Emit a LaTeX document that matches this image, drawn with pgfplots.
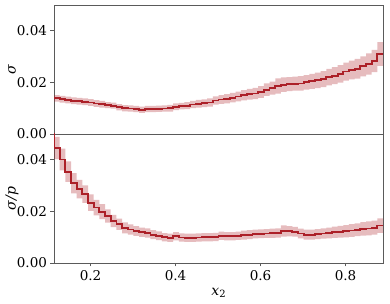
\documentclass[border=0pt]{standalone}
\usepackage{fontspec}
\setmainfont{DejaVu Serif}
\usepackage{pgfplots}
\pgfplotsset{compat=1.18}
\usepgfplotslibrary{fillbetween}
\usepackage{pgfplotstable}
\definecolor{linec}{RGB}{172,32,40}
\definecolor{axc}{RGB}{90,90,90}

\pgfplotstableread{
x y e
0.1140 0.0138 0.0013
0.1273 0.0135 0.0013
0.1407 0.0132 0.0013
0.1540 0.0129 0.0013
0.1674 0.0127 0.0013
0.1807 0.0125 0.0013
0.1941 0.0122 0.0013
0.2074 0.0118 0.0013
0.2208 0.0115 0.0013
0.2341 0.0112 0.0012
0.2475 0.0110 0.0012
0.2608 0.0104 0.0012
0.2741 0.0100 0.0012
0.2875 0.0099 0.0012
0.3008 0.0097 0.0012
0.3142 0.0094 0.0012
0.3275 0.0097 0.0012
0.3409 0.0097 0.0012
0.3542 0.0098 0.0012
0.3676 0.0099 0.0012
0.3809 0.0100 0.0013
0.3942 0.0106 0.0013
0.4076 0.0108 0.0013
0.4209 0.0110 0.0014
0.4343 0.0114 0.0014
0.4476 0.0117 0.0015
0.4610 0.0119 0.0015
0.4743 0.0122 0.0016
0.4877 0.0130 0.0016
0.5010 0.0134 0.0017
0.5144 0.0137 0.0018
0.5277 0.0141 0.0018
0.5410 0.0145 0.0019
0.5544 0.0150 0.0020
0.5677 0.0154 0.0021
0.5811 0.0157 0.0022
0.5944 0.0163 0.0023
0.6078 0.0172 0.0024
0.6211 0.0178 0.0025
0.6345 0.0186 0.0030
0.6478 0.0191 0.0028
0.6611 0.0193 0.0027
0.6745 0.0195 0.0027
0.6878 0.0196 0.0028
0.7012 0.0200 0.0028
0.7145 0.0204 0.0029
0.7279 0.0208 0.0030
0.7412 0.0213 0.0031
0.7546 0.0220 0.0032
0.7679 0.0226 0.0033
0.7812 0.0233 0.0034
0.7946 0.0242 0.0035
0.8079 0.0248 0.0036
0.8213 0.0253 0.0038
0.8346 0.0262 0.0039
0.8480 0.0271 0.0041
0.8613 0.0283 0.0043
0.8747 0.0310 0.0046
0.8880 0.0310 0.0046
}\topdata

\pgfplotstableread{
x y e
0.1140 0.0600 0.0000
0.1142 0.0446 0.0043
0.1273 0.0401 0.0042
0.1407 0.0354 0.0040
0.1540 0.0309 0.0039
0.1674 0.0286 0.0036
0.1807 0.0267 0.0034
0.1941 0.0234 0.0032
0.2074 0.0215 0.0030
0.2208 0.0199 0.0029
0.2341 0.0182 0.0026
0.2475 0.0163 0.0024
0.2608 0.0150 0.0022
0.2741 0.0136 0.0021
0.2875 0.0130 0.0020
0.3008 0.0124 0.0019
0.3142 0.0119 0.0018
0.3275 0.0116 0.0018
0.3409 0.0110 0.0017
0.3542 0.0106 0.0017
0.3676 0.0100 0.0016
0.3809 0.0098 0.0016
0.3942 0.0104 0.0016
0.4076 0.0099 0.0016
0.4209 0.0098 0.0016
0.4343 0.0098 0.0016
0.4476 0.0099 0.0016
0.4610 0.0100 0.0016
0.4743 0.0100 0.0016
0.4877 0.0101 0.0016
0.5010 0.0106 0.0016
0.5144 0.0104 0.0016
0.5277 0.0104 0.0016
0.5410 0.0106 0.0016
0.5544 0.0108 0.0017
0.5677 0.0110 0.0017
0.5811 0.0112 0.0017
0.5944 0.0113 0.0017
0.6078 0.0114 0.0017
0.6211 0.0115 0.0018
0.6345 0.0116 0.0018
0.6478 0.0124 0.0022
0.6611 0.0123 0.0020
0.6745 0.0121 0.0019
0.6878 0.0114 0.0019
0.7012 0.0110 0.0019
0.7145 0.0110 0.0019
0.7279 0.0112 0.0019
0.7412 0.0114 0.0020
0.7546 0.0116 0.0021
0.7679 0.0119 0.0022
0.7812 0.0121 0.0023
0.7946 0.0123 0.0024
0.8079 0.0126 0.0025
0.8213 0.0129 0.0025
0.8346 0.0132 0.0026
0.8480 0.0134 0.0027
0.8613 0.0137 0.0027
0.8747 0.0145 0.0028
0.8880 0.0145 0.0028
}\botdata

\pgfplotsset{
  panel/.style={
    scale only axis,
    width=329pt, height=129pt,
    xmin=0.114, xmax=0.888,
    ymin=0, ymax=0.05,
    ytick={0,0.02,0.04},
    xtick={0.2,0.4,0.6,0.8},
    scaled y ticks=false, scaled x ticks=false,
    axis line style={draw=axc, line width=0.7pt},
    tick style={draw=axc, line width=0.7pt},
    tick align=outside,
    major tick length=3.5pt,
    xtick pos=bottom, ytick pos=left,
    /pgf/number format/assume math mode=true,
    tick label style={font=\fontsize{13.5}{16}\selectfont},
    yticklabel style={/pgf/number format/fixed, /pgf/number format/fixed zerofill, /pgf/number format/precision=2},
    xticklabel style={/pgf/number format/fixed, /pgf/number format/fixed zerofill, /pgf/number format/precision=1},
    ylabel style={at={(axis description cs:-0.1277,0.5)}, anchor=center, font=\fontsize{14}{16}\selectfont},
    clip=true,
  },
}

\begin{document}
\begin{tikzpicture}
\begin{axis}[panel, at={(0pt,129pt)}, anchor=south west,
  xticklabels={}, xtick style={draw=none},
  ylabel={\itshape σ}]
  \addplot[name path=thi, draw=none, const plot mark left, forget plot] table[x=x, y expr=\thisrow{y}+\thisrow{e}]{\topdata};
  \addplot[name path=tlo, draw=none, const plot mark left, forget plot] table[x=x, y expr=\thisrow{y}-\thisrow{e}]{\topdata};
  \addplot[fill=linec, fill opacity=0.3, draw=none] fill between[of=thi and tlo];
  \addplot[linec, line width=1.8pt, const plot mark left, mark=none] table[x=x, y=y]{\topdata};
\end{axis}
\begin{axis}[panel, at={(0pt,0pt)}, anchor=south west,
  ylabel={\itshape σ/p},
  xlabel={\itshape x\upshape\raisebox{-0.35ex}{\fontsize{10}{12}\selectfont 2}},
  xlabel style={at={(axis description cs:0.5,0)}, anchor=center, yshift=-30pt, font=\fontsize{14}{16}\selectfont}]
  \addplot[name path=bhi, draw=none, const plot mark left, forget plot] table[x=x, y expr=\thisrow{y}+\thisrow{e}]{\botdata};
  \addplot[name path=blo, draw=none, const plot mark left, forget plot] table[x=x, y expr=\thisrow{y}-\thisrow{e}]{\botdata};
  \addplot[fill=linec, fill opacity=0.3, draw=none] fill between[of=bhi and blo];
  \addplot[linec, line width=1.8pt, const plot mark left, mark=none] table[x=x, y=y]{\botdata};
\end{axis}
\pgfresetboundingbox
\path[use as bounding box] (-54pt,-41pt) rectangle (336pt,263pt);
\end{tikzpicture}
\end{document}
